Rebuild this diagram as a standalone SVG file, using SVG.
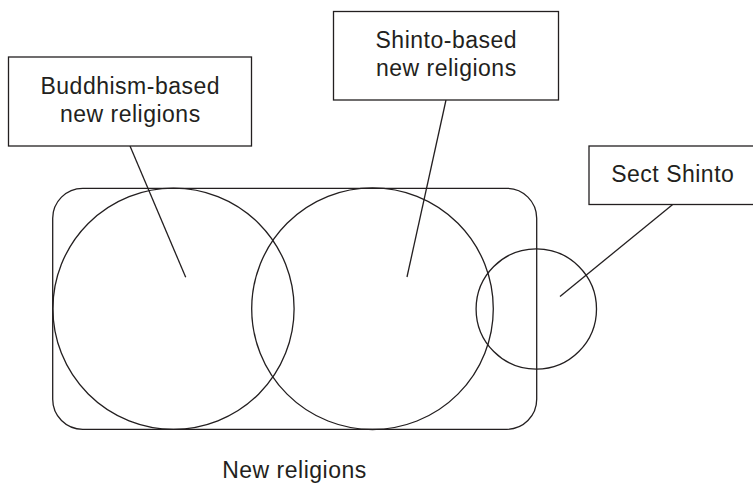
<svg xmlns="http://www.w3.org/2000/svg" width="753" height="483" viewBox="0 0 753 483">
<style>
.s{fill:none;stroke:#231f20;stroke-width:1.3}
.b{fill:#fff;stroke:#231f20;stroke-width:1.3}
.t{font-family:"Liberation Sans",Arial,sans-serif;font-size:23px;fill:#231f20;text-anchor:middle;letter-spacing:0.5px}
</style>
<rect width="753" height="483" fill="#fff"/>
<g id="new-religions">
<rect class="s" x="52.7" y="188.3" width="484" height="241" rx="30" ry="30"/>
<text class="t" x="294.5" y="477.5">New religions</text>
</g>
<g id="buddhism-circle"><circle class="s" cx="173.5" cy="308.7" r="120.6"/></g>
<g id="shinto-circle"><circle class="s" cx="372.5" cy="308.7" r="120.8"/></g>
<g id="sect-circle"><circle class="s" cx="536.3" cy="309" r="60.2"/></g>
<g id="connectors">
<line class="s" x1="130" y1="146" x2="185.7" y2="277.3"/>
<line class="s" x1="446" y1="100" x2="407" y2="277"/>
<line class="s" x1="672.7" y1="204.5" x2="560" y2="296.5"/>
</g>
<g id="buddhism-label">
<rect class="b" x="8.5" y="57" width="243" height="89"/>
<text class="t" x="130.3" y="93.5">Buddhism-based</text>
<text class="t" x="130.3" y="121.5">new religions</text>
</g>
<g id="shinto-label">
<rect class="b" x="333.5" y="11.5" width="225" height="88.5"/>
<text class="t" x="446.3" y="47.5">Shinto-based</text>
<text class="t" x="446.3" y="75.5">new religions</text>
</g>
<g id="sect-label">
<rect class="b" x="589" y="146" width="170" height="58.5"/>
<text class="t" x="672.8" y="182">Sect Shinto</text>
</g>
</svg>
